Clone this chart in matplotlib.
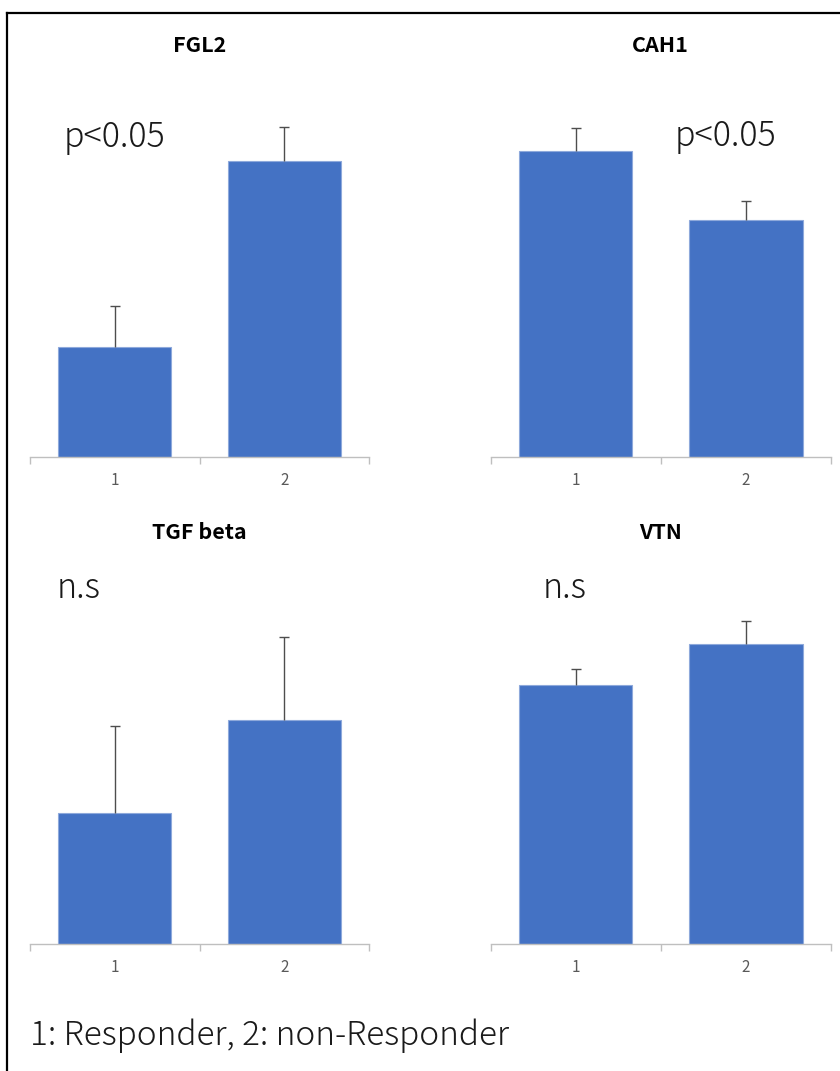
import matplotlib
matplotlib.use("Agg")
import matplotlib.pyplot as plt
from matplotlib.lines import Line2D

plt.rcParams['font.family'] = ['Noto Sans CJK JP', 'DejaVu Sans']

# relative expression, group 1 = Responder, group 2 = non-Responder
GENES = ["FGL2", "CAH1", "TGF beta", "VTN"]
GROUPS = ["1", "2"]
FGL2_MEAN = [1.10, 2.96]
FGL2_ERR = [0.41, 0.34]
CAH1_MEAN = [3.06, 2.37]
CAH1_ERR = [0.23, 0.19]
TGFB_MEAN = [1.31, 2.24]
TGFB_ERR = [0.87, 0.83]
VTN_MEAN = [2.59, 3.00]
VTN_ERR = [0.16, 0.23]
SIG_LABELS = ["p<0.05", "p<0.05", "n.s", "n.s"]
FOOTNOTE = "1: Responder, 2: non-Responder"

BAR_COLOR = "#4472C4"
ERR_COLOR = "#4d4d4d"
W, H = 840, 1071


def fx(px):
    return px / W


def fy(py):
    return 1 - py / H


def draw_panel(fig, rect, mean, err):
    ax = fig.add_axes(rect)
    x = list(range(len(GROUPS)))
    tops = [m + e for m, e in zip(mean, err)]
    ax.bar(x, mean, width=0.667, color=BAR_COLOR, edgecolor="#8EA9DB", linewidth=0.8, zorder=2)
    # upper error bars only
    ax.vlines(x, mean, tops, color=ERR_COLOR, linewidth=1.0, zorder=3)
    ax.scatter(x, tops, marker="_", s=45, color=ERR_COLOR, linewidths=1.0, zorder=3)
    ax.set_xlim(-0.5, 1.5)
    ax.set_ylim(0, 3.44)
    for s in ["top", "right", "left"]:
        ax.spines[s].set_visible(False)
    ax.spines["bottom"].set_color("#BFBFBF")
    ax.spines["bottom"].set_linewidth(1.0)
    ax.set_yticks([])
    ax.set_xticks([-0.5, 0.5, 1.5])
    ax.set_xticklabels([])
    ax.tick_params(axis="x", length=5, color="#BFBFBF", width=1.0)
    ax.set_xticks(x, minor=True)
    ax.set_xticklabels(GROUPS, minor=True)
    ax.tick_params(axis="x", which="minor", length=0, pad=11, labelsize=11, labelcolor="#595959")
    ax.patch.set_alpha(0)
    return ax


def main():
    fig = plt.figure(figsize=(8.4, 10.71), dpi=100)

    means = [FGL2_MEAN, CAH1_MEAN, TGFB_MEAN, VTN_MEAN]
    errs = [FGL2_ERR, CAH1_ERR, TGFB_ERR, VTN_ERR]
    lefts = [30, 490.5]
    widths = [339, 340.5]
    bottoms = [457, 944]
    ax_h = 344
    sig_pos = [(64, 147), (675, 146), (57, 598), (543, 598)]

    for i, gene in enumerate(GENES):
        col, row = i % 2, i // 2
        rect = [fx(lefts[col]), fy(bottoms[row]), widths[col] / W, ax_h / H]
        draw_panel(fig, rect, means[i], errs[i])
        cx = lefts[col] + widths[col] / 2
        ty = 52 if row == 0 else 539
        fig.text(fx(cx), fy(ty), gene, ha="center", va="baseline",
                 fontsize=15.5, fontweight="bold", color="#000000")
        sx, sy = sig_pos[i]
        fig.text(fx(sx), fy(sy), SIG_LABELS[i], ha="left", va="baseline",
                 fontsize=24.5, fontweight="light", color="#1a1a1a")

    fig.text(fx(30), fy(1045), FOOTNOTE, ha="left", va="baseline", fontsize=24,
             fontweight="light", color="#1a1a1a")

    # border of the pasted slide
    fig.add_artist(Line2D([fx(7), fx(7)], [fy(13), 0], color="black", linewidth=1.6,
                          transform=fig.transFigure))
    fig.add_artist(Line2D([fx(7), 1], [fy(13), fy(13)], color="black", linewidth=1.6,
                          transform=fig.transFigure))

    fig.savefig("out.png", dpi=100)
    plt.close(fig)


if __name__ == '__main__':
    main()
